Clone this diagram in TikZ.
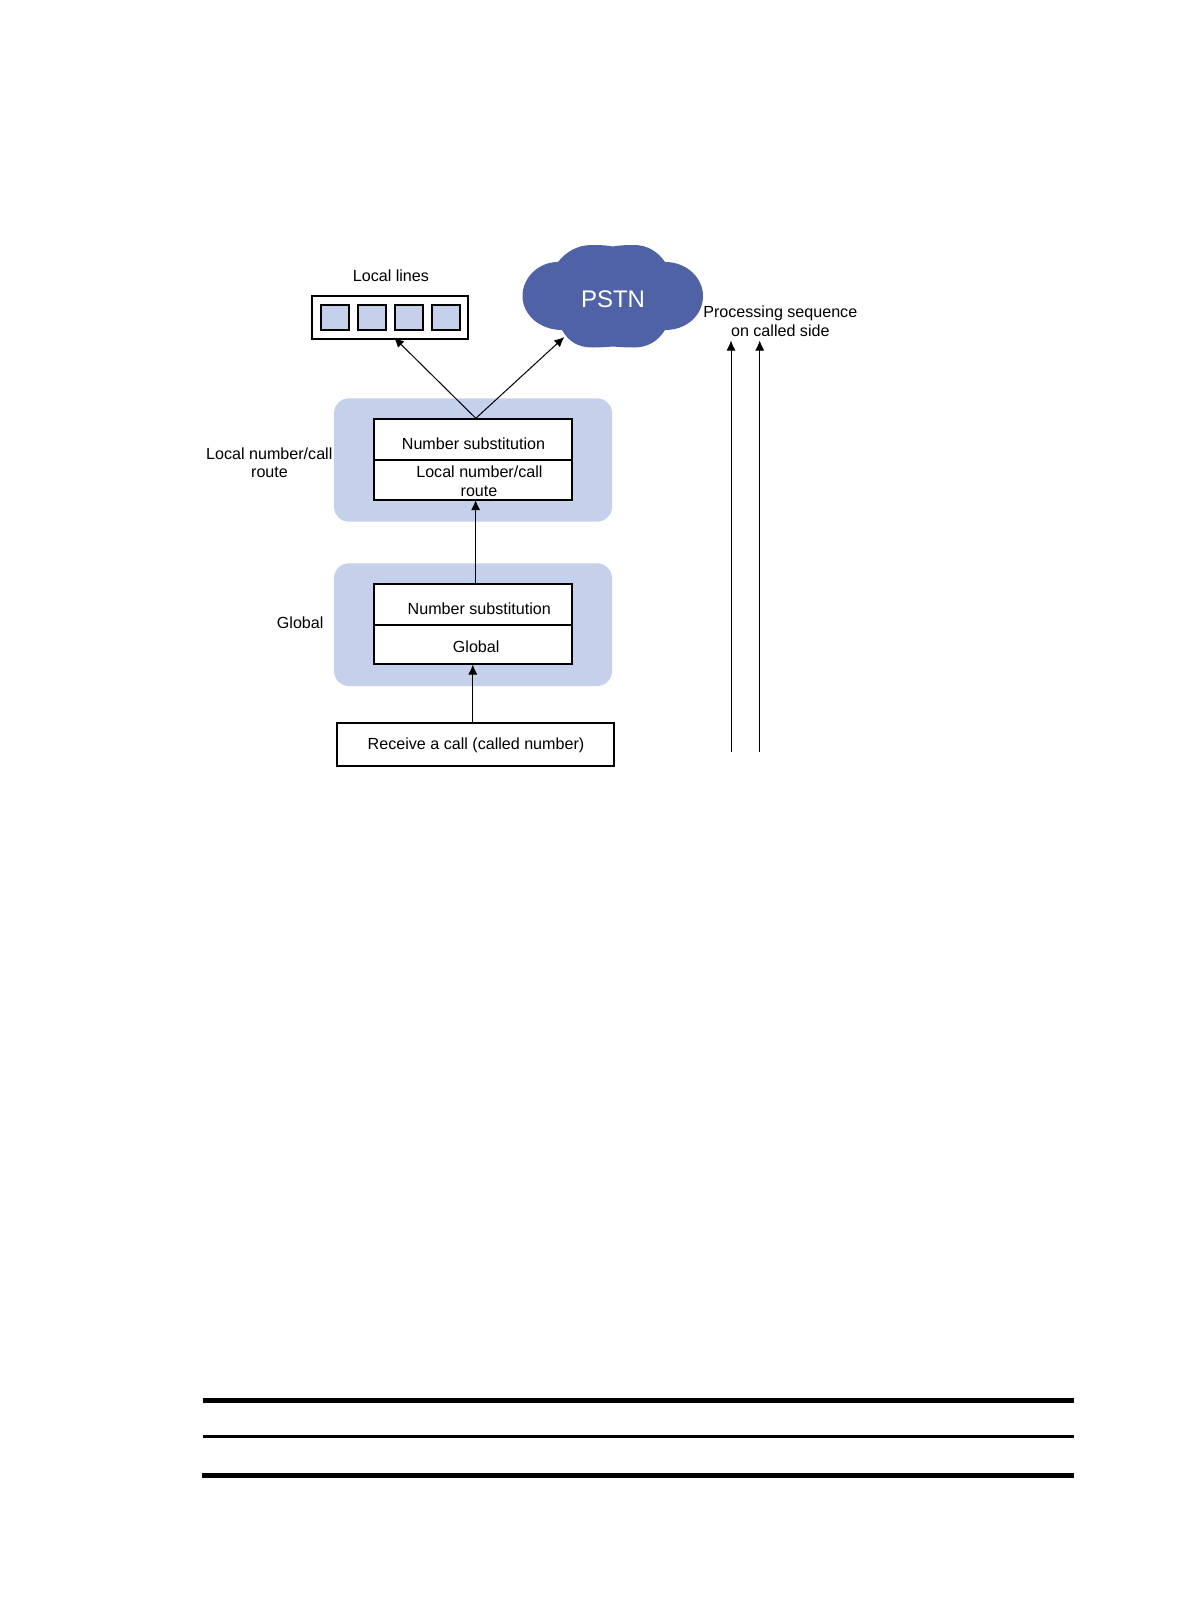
\documentclass[tikz,border=0pt]{standalone}
\usepackage{fontspec}
\setmainfont{Liberation Sans}
\usetikzlibrary{arrows.meta}
\definecolor{panel}{HTML}{C5D1EA}
\definecolor{cloudblue}{HTML}{4F62A5}
\tikzset{
  panelbox/.style={fill=panel,draw=none,rounded corners=15pt},
  whitebox/.style={draw=black,fill=white,line width=1.9pt},
  linebox/.style={draw=black,fill=panel,line width=1.7pt},
  rulebar/.style={fill=black,draw=none},
  lab/.style={anchor=base,inner sep=0pt,outer sep=0pt,font=\fontsize{16.1pt}{19pt}\selectfont},
  conn/.style={draw=black,line width=1pt,-{Latex[length=10pt,width=9pt]}},
}
\begin{document}
\begin{tikzpicture}[x=1pt,y=-1pt]
\useasboundingbox (0,0) rectangle (1190,1616);
% panels
\fill[panelbox] (334,398.3) rectangle (612,521.7);
\fill[panelbox] (334,563.3) rectangle (612,686);
% cloud
\fill[cloudblue] (558,262) .. controls (566,252) and (577,245) .. (592,245)
  .. controls (601,245) and (608,245.5) .. (613,246.5)
  .. controls (618,245.5) and (625,245) .. (634,245)
  .. controls (648,245) and (658,252) .. (665,262)
  .. controls (687,262) and (703,278) .. (703,296)
  .. controls (703,315) and (687,330) .. (665,330)
  .. controls (658,341) and (648,347.5) .. (634,347.5)
  .. controls (625,347.5) and (619,347) .. (613,346.5)
  .. controls (607,347) and (601,347.5) .. (592,347.5)
  .. controls (578,347.5) and (568,341) .. (562,330)
  .. controls (540,330) and (522.5,315) .. (522.5,296)
  .. controls (522.5,278) and (538,262) .. (558,262) -- cycle;
% boxes
\node[whitebox,inner sep=0pt,minimum width=156pt,minimum height=43pt] (lines) at (390.3,317.3) {};
\node[linebox,inner sep=0pt,minimum width=28pt,minimum height=25pt] (s1) at (335.2,317.3) {};
\node[linebox,inner sep=0pt,minimum width=28pt,minimum height=25pt] (s2) at (372.2,317.3) {};
\node[linebox,inner sep=0pt,minimum width=28pt,minimum height=25pt] (s3) at (409.2,317.3) {};
\node[linebox,inner sep=0pt,minimum width=28pt,minimum height=25pt] (s4) at (446.2,317.3) {};
\node[whitebox,inner sep=0pt,minimum width=198.6pt,minimum height=40.6pt] (subA) at (472.9,439.3) {};
\node[whitebox,inner sep=0pt,minimum width=198.6pt,minimum height=40.3pt] (routeA) at (472.9,479.8) {};
\node[whitebox,inner sep=0pt,minimum width=198.6pt,minimum height=41.3pt] (subB) at (472.9,604.3) {};
\node[whitebox,inner sep=0pt,minimum width=198.6pt,minimum height=39pt] (globB) at (472.9,644.5) {};
\node[whitebox,inner sep=0pt,minimum width=277pt,minimum height=43.3pt] (recv) at (475.6,744.3) {};
% texts
\node[lab] (t1) at (390.9,281.6) {Local lines};
\node[lab,text=white,font=\fontsize{24pt}{28pt}\selectfont] (t2) at (613,307.6) {PSTN};
\node[lab] (t3) at (473.5,449.6) {Number substitution};
\node[lab] (t4) at (479.4,477) {Local number/call};
\node[lab] (t5) at (479,496.2) {route};
\node[lab] (t6) at (269.3,459.3) {Local number/call};
\node[lab] (t7) at (269.5,477.7) {route};
\node[lab] (t8) at (300.2,628.7) {Global};
\node[lab] (t9) at (479.3,614.4) {Number substitution};
\node[lab] (t10) at (476.2,652) {Global};
\node[lab] (t11) at (476,749.4) {Receive a call (called number)};
\node[lab] (t12) at (780.3,317.2) {Processing sequence};
\node[lab] (t13) at (780.3,336.2) {on called side};
% connector ends
\coordinate (fork) at (475.8,418.3);
\coordinate (linesTip) at (394,337.5);
\coordinate (cloudTip) at (564.3,337);
\coordinate (upAx) at (475.6,500);
\coordinate (upBx) at (472.8,664.5);
\coordinate (seqAfoot) at (731,752);
\coordinate (seqAtip) at (731,340.5);
\coordinate (seqBfoot) at (759.7,752);
\coordinate (seqBtip) at (759.7,340.5);
% connectors
\draw[conn] (fork) -- (linesTip);
\draw[conn] (fork) -- (cloudTip);
\draw[conn] (upAx |- subB.north) -- (upAx);
\draw[conn] (upBx |- recv.north) -- (upBx);
\draw[conn] (seqAfoot) -- (seqAtip);
\draw[conn] (seqBfoot) -- (seqBtip);
% rules
\fill[rulebar] (203,1397.7) rectangle (1074,1403);
\fill[rulebar] (203,1434.7) rectangle (1074,1438);
\fill[rulebar] (202,1472.7) rectangle (1074,1478);
\end{tikzpicture}
\end{document}
